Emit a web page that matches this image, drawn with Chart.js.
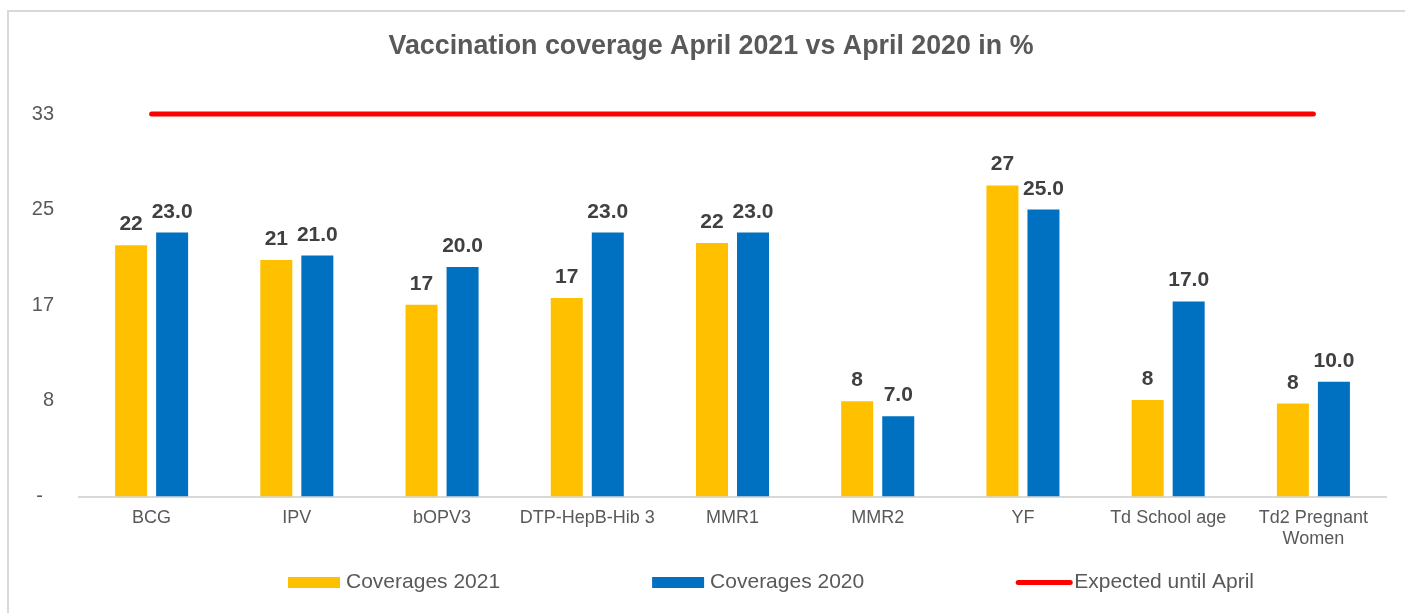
<!DOCTYPE html>
<html>
<head>
<meta charset="utf-8">
<script src="https://cdn.jsdelivr.net/npm/chart.js@4.4.0/dist/chart.umd.min.js"></script>
<style>
  html, body { margin: 0; padding: 0; background: #fff; overflow: hidden; }
  #wrap { width: 1405px; height: 613px; position: relative; }
</style>
</head>
<body>
<div id="wrap"><canvas id="c" width="1405" height="613"></canvas></div>
<script>
// Vaccine antigens shown on the x axis
const CATEGORIES = ['BCG', 'IPV', 'bOPV3', 'DTP-HepB-Hib 3', 'MMR1', 'MMR2', 'YF', 'Td School age', ['Td2 Pregnant', 'Women']];
// Coverage (%) reached by end of April
const COVERAGE_2021 = [21.9, 20.6, 16.7, 17.3, 22.1, 8.3, 27.1, 8.4, 8.1];
const COVERAGE_2020 = [23.0, 21.0, 20.0, 23.0, 23.0, 7.0, 25.0, 17.0, 10.0];
// Target expected by April (4 of 12 months)
const EXPECTED_APRIL = [33.33, 33.33, 33.33, 33.33, 33.33, 33.33, 33.33, 33.33, 33.33];
// Y axis ticks
const Y_TICKS = [0, 8.33, 16.67, 25, 33.33];

const TITLE = 'Vaccination coverage April 2021 vs April 2020 in %';
const FONT = '"Liberation Sans", Arial, Helvetica, sans-serif';
const TEXT_GREY = '#595959';
Chart.defaults.font.family = FONT;

// White background, light grey frame edges and the heading
const framePlugin = {
  id: 'frame',
  beforeDraw(chart) {
    const ctx = chart.ctx;
    ctx.save();
    ctx.fillStyle = '#ffffff';
    ctx.fillRect(0, 0, chart.width, chart.height);
    ctx.strokeStyle = '#d9d9d9';
    ctx.lineWidth = 2;
    ctx.beginPath();
    ctx.moveTo(8, chart.height + 5);
    ctx.lineTo(8, 11);
    ctx.lineTo(chart.width + 5, 11);
    ctx.stroke();

    ctx.fillStyle = TEXT_GREY;
    ctx.font = 'bold 26.8px ' + FONT;
    ctx.textAlign = 'center';
    ctx.textBaseline = 'middle';
    ctx.fillText(TITLE, 711, 47);
    ctx.restore();
  }
};

// Value labels above the bars
const LABEL_FORMATS = [
  v => String(Math.round(v)),
  v => v.toFixed(1)
];
const valueLabelPlugin = {
  id: 'valueLabels',
  afterDatasetsDraw(chart) {
    const ctx = chart.ctx;
    ctx.save();
    ctx.font = 'bold 21px ' + FONT;
    ctx.fillStyle = '#404040';
    ctx.textAlign = 'center';
    ctx.textBaseline = 'alphabetic';
    LABEL_FORMATS.forEach((fmt, i) => {
      const meta = chart.getDatasetMeta(i);
      const data = chart.data.datasets[i].data;
      meta.data.forEach((el, j) => {
        ctx.fillText(fmt(data[j]), el.x, el.y - 15);
      });
    });
    ctx.restore();
  }
};

// Legend row along the bottom
const bottomLegendPlugin = {
  id: 'bottomLegend',
  afterDraw(chart) {
    const ctx = chart.ctx;
    const y = 582.5;
    const boxW = 52;
    let x = 288;
    ctx.save();
    ctx.font = '21px ' + FONT;
    ctx.textBaseline = 'middle';
    ctx.textAlign = 'left';
    chart.data.datasets.forEach(ds => {
      if (ds.type === 'line') {
        ctx.strokeStyle = ds.borderColor;
        ctx.lineWidth = 5;
        ctx.lineCap = 'round';
        ctx.beginPath();
        ctx.moveTo(x + 2, y);
        ctx.lineTo(x + boxW + 2, y);
        ctx.stroke();
      } else {
        ctx.fillStyle = ds.backgroundColor;
        ctx.fillRect(x, y - 5.5, boxW, 11);
      }
      ctx.fillStyle = TEXT_GREY;
      const tx = x + boxW + 6;
      ctx.fillText(ds.label, tx, y);
      x = tx + ctx.measureText(ds.label).width + 152;
    });
    ctx.restore();
  }
};

new Chart(document.getElementById('c'), {
  data: {
    labels: CATEGORIES,
    datasets: [
      {
        type: 'bar',
        label: 'Coverages 2021',
        data: COVERAGE_2021,
        backgroundColor: '#FFC000',
        categoryPercentage: 0.565,
        barPercentage: 0.78
      },
      {
        type: 'bar',
        label: 'Coverages 2020',
        data: COVERAGE_2020,
        backgroundColor: '#0070C0',
        categoryPercentage: 0.565,
        barPercentage: 0.78
      },
      {
        type: 'line',
        label: 'Expected until April',
        data: EXPECTED_APRIL,
        borderColor: '#FF0000',
        backgroundColor: '#FF0000',
        borderWidth: 5,
        borderCapStyle: 'round',
        pointRadius: 0,
        tension: 0,
        clip: false
      }
    ]
  },
  options: {
    responsive: false,
    animation: false,
    layout: { padding: { left: 0, right: 19, top: 114, bottom: 0 } },
    plugins: {
      legend: { display: false },
      tooltip: { enabled: false },
      title: { display: false }
    },
    scales: {
      x: {
        grid: { display: false, drawTicks: false },
        border: { display: true, color: '#d9d9d9', width: 2 },
        ticks: {
          color: TEXT_GREY,
          font: { size: 18, lineHeight: 1.17 },
          padding: 11,
          maxRotation: 0,
          autoSkip: false
        },
        afterFit(scale) { scale.height = 116.5; }
      },
      y: {
        min: 0,
        max: 33.33,
        grid: { display: false, drawTicks: false },
        border: { display: false },
        ticks: {
          color: TEXT_GREY,
          font: { size: 20 },
          padding: 25,
          callback: v => (v === 0 ? '-  ' : String(Math.round(v)))
        },
        afterBuildTicks(scale) { scale.ticks = Y_TICKS.map(v => ({ value: v })); },
        afterFit(scale) { scale.width = 79; }
      }
    }
  },
  plugins: [framePlugin, valueLabelPlugin, bottomLegendPlugin]
});
</script>
</body>
</html>
